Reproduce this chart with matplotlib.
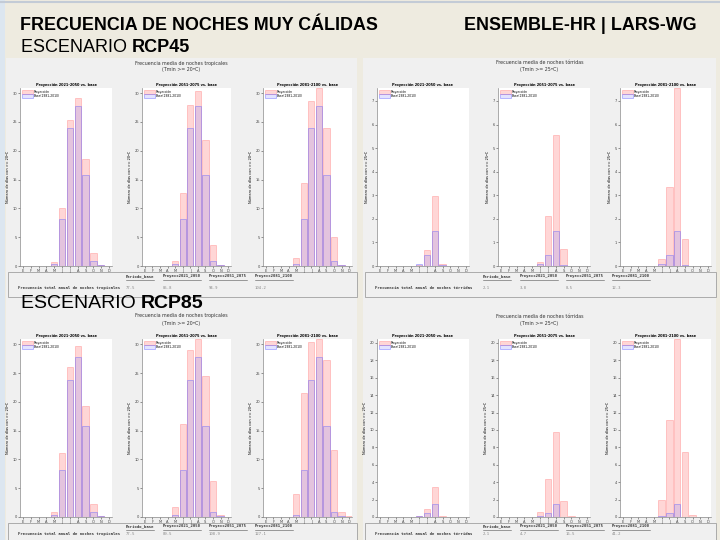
import matplotlib
matplotlib.use("Agg")
import matplotlib.pyplot as plt
from matplotlib.patches import Rectangle
from matplotlib.lines import Line2D
import numpy as np

W, H = 720, 540

months = ["E", "F", "M", "A", "M", "J", "J", "A", "S", "O", "N", "D"]
periods = ["2021-2050", "2051-2075", "2081-2100"]
table_cols = ["Periodo_base", "Proyecc2021_2050", "Proyecc2051_2075", "Proyecc2081_2100"]

base_trop = [0, 0, 0, 0, 0.35, 8.1, 23.9, 27.75, 15.75, 0.9, 0.1, 0]
base_torr = [0, 0, 0, 0, 0, 0.1, 0.47, 1.5, 0.04, 0, 0, 0]

trop45 = [[0, 0, 0, 0, 0.63, 10.0, 25.4, 29.2, 18.5, 2.2, 0.15, 0],
          [0, 0, 0, 0, 0.87, 12.6, 27.9, 30.35, 21.8, 3.6, 0.15, 0],
          [0, 0, 0, 0, 1.45, 14.4, 28.7, 30.9, 23.9, 5.1, 0.15, 0]]
torr45 = [[0, 0, 0, 0, 0, 0.05, 0.68, 2.98, 0.1, 0, 0, 0],
          [0, 0, 0, 0, 0, 0.17, 2.12, 5.55, 0.72, 0, 0, 0],
          [0, 0, 0, 0, 0, 0.3, 3.33, 7.53, 1.14, 0, 0, 0]]
trop85 = [[0, 0, 0, 0, 0.92, 11.1, 26.1, 29.7, 19.25, 2.3, 0.1, 0],
          [0, 0, 0, 0, 1.73, 16.1, 29.0, 30.9, 24.6, 6.24, 0.29, 0],
          [0, 0, 0, 0, 4.05, 21.6, 30.5, 30.95, 27.3, 11.7, 0.92, 0.1]]
torr85 = [[0, 0, 0, 0, 0, 0.15, 0.92, 3.44, 0.15, 0, 0, 0],
          [0, 0, 0, 0, 0, 0.53, 4.39, 9.73, 1.8, 0.08, 0, 0],
          [0, 0, 0, 0, 0, 1.98, 11.15, 20.4, 7.44, 0.27, 0, 0]]

tot_trop45 = ["77.5", "85.8", "94.9", "104.2"]
tot_torr45 = ["2.1", "3.8", "8.5", "12.3"]
tot_trop85 = ["77.5", "89.5", "108.9", "127.1"]
tot_torr85 = ["2.1", "4.7", "16.5", "41.2"]

BG = "#eeebe0"
PANEL = "#f0f0f0"

fig = plt.figure(figsize=(7.2, 5.4), dpi=100, facecolor=BG)
renderer = fig.canvas.get_renderer()


def fx(x):
    return x / W


def fy(y):
    return 1 - y / H


def rect(x0, y0, x1, y1, **kw):
    fig.patches.append(Rectangle((fx(x0), fy(y1)), (x1 - x0) / W, (y1 - y0) / H,
                                 transform=fig.transFigure, **kw))


def hline(x0, x1, y, **kw):
    fig.lines.append(Line2D([fx(x0), fx(x1)], [fy(y), fy(y)], transform=fig.transFigure, **kw))


# slide decoration
rect(0, 0, 5, 540, facecolor="#dce6f0", edgecolor="none", zorder=0)
hline(0, 720, 2, color="#c3cbd6", lw=1.5)

tf = "Liberation Sans"
fig.text(fx(20), fy(26), "FRECUENCIA DE NOCHES MUY CÁLIDAS", family=tf,
         weight="bold", fontsize=12.9, va="center", ha="left")
fig.text(fx(464), fy(26), "ENSEMBLE-HR | LARS-WG", family=tf,
         weight="bold", fontsize=12.9, va="center", ha="left")


def scenario(y, size, name):
    t = fig.text(fx(21), fy(y), "ESCENARIO ", family=tf, fontsize=size, va="center")
    bb = t.get_window_extent(renderer)
    fig.text(bb.x1 / W, fy(y), name, family=tf, weight="bold", fontsize=size, va="center")


scenario(48, 13, "RCP45")
scenario(304, 14, "RCP85")


def panel(x0, y0, x1, ax_top, ax_bot, ax_xs, proj, base, ymax, yticks, kind, thr, totals, tight):
    rect(x0, y0, x1, 545, facecolor=PANEL, edgecolor="none", zorder=0)
    cx = (x0 + x1) / 2
    fig.text(fx(cx), fy(y0 + 5), "Frecuencia media de noches " + kind, fontsize=3.4,
             ha="center", va="center", color="#333333")
    fig.text(fx(cx), fy(y0 + 12), "(Tmin >= %dºC)" % thr, fontsize=3.4,
             ha="center", va="center", color="#333333")
    x = np.arange(1, 13)
    for (a0, a1), vals, per in zip(ax_xs, proj, periods):
        ax = fig.add_axes([fx(a0), fy(ax_bot), (a1 - a0) / W, (ax_bot - ax_top) / H], zorder=3)
        ax.bar(x, vals, width=0.82, color=(1, 0.6, 0.6, 0.4), edgecolor=(1, 0.5, 0.5, 0.45),
               lw=0.6, label="Proyección")
        ax.bar(x, base, width=0.82, color=(0.5, 0.5, 1, 0.22), edgecolor=(0.4, 0.4, 1, 0.5),
               lw=0.6, label="Base(1981-2010)")
        ax.set_xlim(0.62, 12.38)
        ax.set_ylim(0, ymax)
        ax.set_xticks(x)
        ax.set_xticklabels(months)
        ax.set_yticks(yticks)
        ax.tick_params(labelsize=2.6, length=1.2, width=0.4, pad=1, colors="#444444")
        for s in ["top", "right"]:
            ax.spines[s].set_visible(False)
        for s in ["left", "bottom"]:
            ax.spines[s].set_color("#888888")
            ax.spines[s].set_linewidth(0.5)
        ax.set_title("Proyección %s vs. base" % per, fontsize=2.5, weight="bold", pad=1.5)
        ax.set_ylabel("Número de días con >= %dºC" % thr, fontsize=2.5, labelpad=2)
        ax.legend(loc="upper left", fontsize=2.2, frameon=False, handlelength=3.5,
                  handleheight=1.6, borderaxespad=0.3, labelspacing=0.1, handletextpad=0.3)
    # table area
    ty = ax_bot + 6
    hgt = 13 if tight else 19
    rect(x0 + 2, ty, x1, ty + hgt + 6, facecolor=PANEL, edgecolor="#a0a0a0", lw=0.6, zorder=1)
    hy, vy = (ty + 3, ty + 11) if tight else (ty + 4, ty + 16)
    col_x = [x0 + 120, x0 + 157, x0 + 203, x0 + 249]
    for cx_, name, val in zip(col_x, table_cols, totals):
        fig.text(fx(cx_), fy(hy), name, family="DejaVu Sans Mono", weight="bold",
                 fontsize=2.8, va="center", color="#333333")
        hline(cx_, cx_ + (28 if name == "Periodo_base" else 38), hy + 4, color="#555555", lw=0.4)
        fig.text(fx(cx_), fy(vy), val, family="DejaVu Sans Mono", fontsize=2.8,
                 va="center", color="#888888")
    fig.text(fx(x0 + 12), fy(vy), "Frecuencia total anual de noches " + kind,
             family="DejaVu Sans Mono", weight="bold", fontsize=2.8, va="center", color="#333333")


left_axes = [(20, 112), (142, 231), (263, 352)]
right_axes = [(377, 469), (498, 590), (620, 711)]

panel(6, 58, 357, 88, 266, left_axes, trop45, base_trop, 30.9, range(0, 31, 5),
      "tropicales", 20, tot_trop45, False)
panel(363, 58, 716, 88, 266, right_axes, torr45, base_torr, 7.55, range(0, 8),
      "tórridas", 25, tot_torr45, False)
panel(6, 311, 357, 339, 517, left_axes, trop85, base_trop, 30.95, range(0, 31, 5),
      "tropicales", 20, tot_trop85, True)
panel(363, 311, 716, 339, 517, right_axes, torr85, base_torr, 20.45, range(0, 21, 2),
      "tórridas", 25, tot_torr85, True)

fig.savefig("out.png", dpi=100, facecolor=BG)
